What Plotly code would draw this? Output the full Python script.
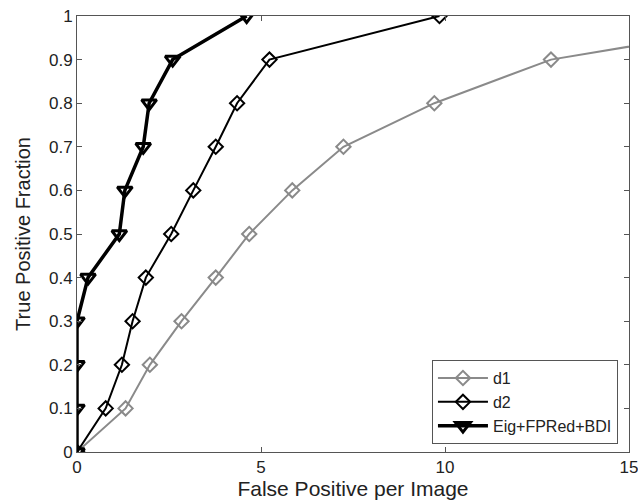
import plotly.graph_objects as go

tpf = [0, 0.1, 0.2, 0.3, 0.4, 0.5, 0.6, 0.7, 0.8, 0.9, 1.0]

d1_x = [0, 1.32, 1.98, 2.84, 3.77, 4.68, 5.85, 7.24, 9.71, 12.88, 20.0]
d1_y = tpf

d2_x = [0, 0.78, 1.22, 1.51, 1.87, 2.56, 3.16, 3.77, 4.35, 5.23, 9.85]
d2_y = tpf

eig_x = [0, 0, 0, 0, 0.3, 1.15, 1.30, 1.80, 1.96, 2.6, 4.61]
eig_y = tpf

x_ticks = [0, 5, 10, 15]
y_ticks = [0, 0.1, 0.2, 0.3, 0.4, 0.5, 0.6, 0.7, 0.8, 0.9, 1]
y_labels = ["0", "0.1", "0.2", "0.3", "0.4", "0.5", "0.6", "0.7", "0.8", "0.9", "1"]

FONT = "Liberation Sans, Arial, sans-serif"
TXT = "#222222"
GRAY = "#8a8a8a"

fig = go.Figure()
fig.add_trace(go.Scatter(x=d1_x, y=d1_y, name="d1", mode="lines+markers",
                         line=dict(color=GRAY, width=2),
                         marker=dict(symbol="diamond-open", size=11, color=GRAY,
                                     line=dict(width=2, color=GRAY))))
fig.add_trace(go.Scatter(x=d2_x, y=d2_y, name="d2", mode="lines+markers",
                         line=dict(color="black", width=2),
                         marker=dict(symbol="diamond-open", size=11, color="black",
                                     line=dict(width=2, color="black"))))
fig.add_trace(go.Scatter(x=eig_x, y=eig_y, name="Eig+FPRed+BDI", mode="lines+markers",
                         line=dict(color="black", width=3.5),
                         marker=dict(symbol="triangle-down-open", size=13, color="black",
                                     line=dict(width=3, color="black"))))

axis_common = dict(showline=True, linecolor="#555555", linewidth=1, mirror="ticks",
                   ticks="inside", ticklen=5, tickcolor="#555555", showgrid=False,
                   zeroline=False, automargin=False, ticklabeloverflow="allow",
                   tickfont=dict(family=FONT, size=17, color=TXT))

fig.update_xaxes(range=[0, 15], tickvals=x_ticks,
                 title=dict(text="False Positive per Image",
                            font=dict(family=FONT, size=21, color=TXT), standoff=2),
                 **axis_common)
fig.update_yaxes(range=[0, 1], tickvals=y_ticks, ticktext=y_labels,
                 title=dict(text="True Positive Fraction",
                            font=dict(family=FONT, size=20, color=TXT), standoff=12),
                 **axis_common)

fig.update_layout(width=638, height=504, plot_bgcolor="white", paper_bgcolor="white",
                  margin=dict(l=77, r=9, t=16, b=52),
                  legend=dict(x=0.98, y=0.018, xanchor="right", yanchor="bottom",
                              bordercolor="#555555", borderwidth=1, bgcolor="white",
                              font=dict(family=FONT, size=16, color=TXT),
                              tracegroupgap=0, itemwidth=50))

fig.write_html("out.html", config={"displayModeBar": False},
               post_script="document.body.style.margin='0';document.body.style.overflow='hidden';")
